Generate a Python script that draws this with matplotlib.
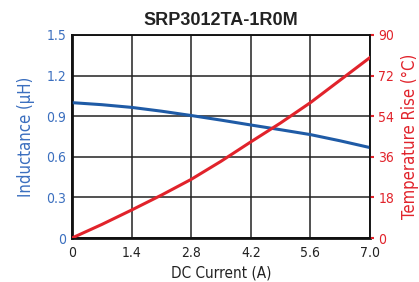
import matplotlib
matplotlib.use("Agg")
import matplotlib.pyplot as plt

# curve data
current = [0, 0.7, 1.4, 2.1, 2.8, 3.5, 4.2, 4.9, 5.6, 6.3, 7.0]
inductance = [1.0, 0.985, 0.965, 0.937, 0.905, 0.871, 0.835, 0.80, 0.764, 0.718, 0.668]
temp_rise = [0, 6.0, 12.4, 19.0, 26.0, 34.0, 42.6, 51.0, 60.0, 70.0, 80.0]

x_ticks = [0, 1.4, 2.8, 4.2, 5.6, 7.0]
x_labels = ["0", "1.4", "2.8", "4.2", "5.6", "7.0"]
l_ticks = [0, 0.3, 0.6, 0.9, 1.2, 1.5]
l_labels = ["0", "0.3", "0.6", "0.9", "1.2", "1.5"]
r_ticks = [0, 18, 36, 54, 72, 90]

plt.rcParams["font.family"] = ["DejaVu Sans"]
plt.rcParams["font.stretch"] = "condensed"

BLUE = "#1f5ba6"
BLUE_TXT = "#3b6fbf"
RED = "#e1232b"

fig = plt.figure(figsize=(4.19, 2.82), dpi=100)
ax = fig.add_axes([0.1718, 0.156, 0.7112, 0.72])
ax2 = ax.twinx()

ax.plot(current, inductance, color=BLUE, lw=2.2, zorder=3)
ax2.plot(current, temp_rise, color=RED, lw=2.2, zorder=3)

ax.set_xlim(0, 7.0)
ax.set_ylim(0, 1.5)
ax2.set_ylim(0, 90)

ax.set_xticks(x_ticks)
ax.set_xticklabels(x_labels)
ax.set_yticks(l_ticks)
ax.set_yticklabels(l_labels)
ax2.set_yticks(r_ticks)

ax.grid(True, color="#222222", lw=1.1)
ax.tick_params(axis="x", length=0, pad=6, labelsize=10, colors="#222222")
ax.tick_params(axis="y", length=0, pad=4, labelsize=10, colors=BLUE_TXT)
ax2.tick_params(axis="y", length=3, width=1.5, color=RED, pad=3,
                labelsize=10, labelcolor=RED)

for a in (ax, ax2):
    for s in a.spines.values():
        s.set_color("#111111")
        s.set_linewidth(1.1)
ax.spines["left"].set_linewidth(2.0)
ax.spines["bottom"].set_linewidth(2.0)

ax.set_xlabel("DC Current (A)", fontsize=11, color="#222222", labelpad=4)
ax.set_ylabel("Inductance (µH)", fontsize=12, color=BLUE_TXT, labelpad=8)
ax2.set_ylabel("Temperature Rise (°C)", fontsize=12, color=RED, labelpad=5)
ax.set_title("SRP3012TA-1R0M", fontsize=13, fontweight="bold",
             family=["Liberation Sans", "DejaVu Sans"], stretch="normal",
             color="#222222", pad=7)

fig.savefig("out.png", dpi=100)
